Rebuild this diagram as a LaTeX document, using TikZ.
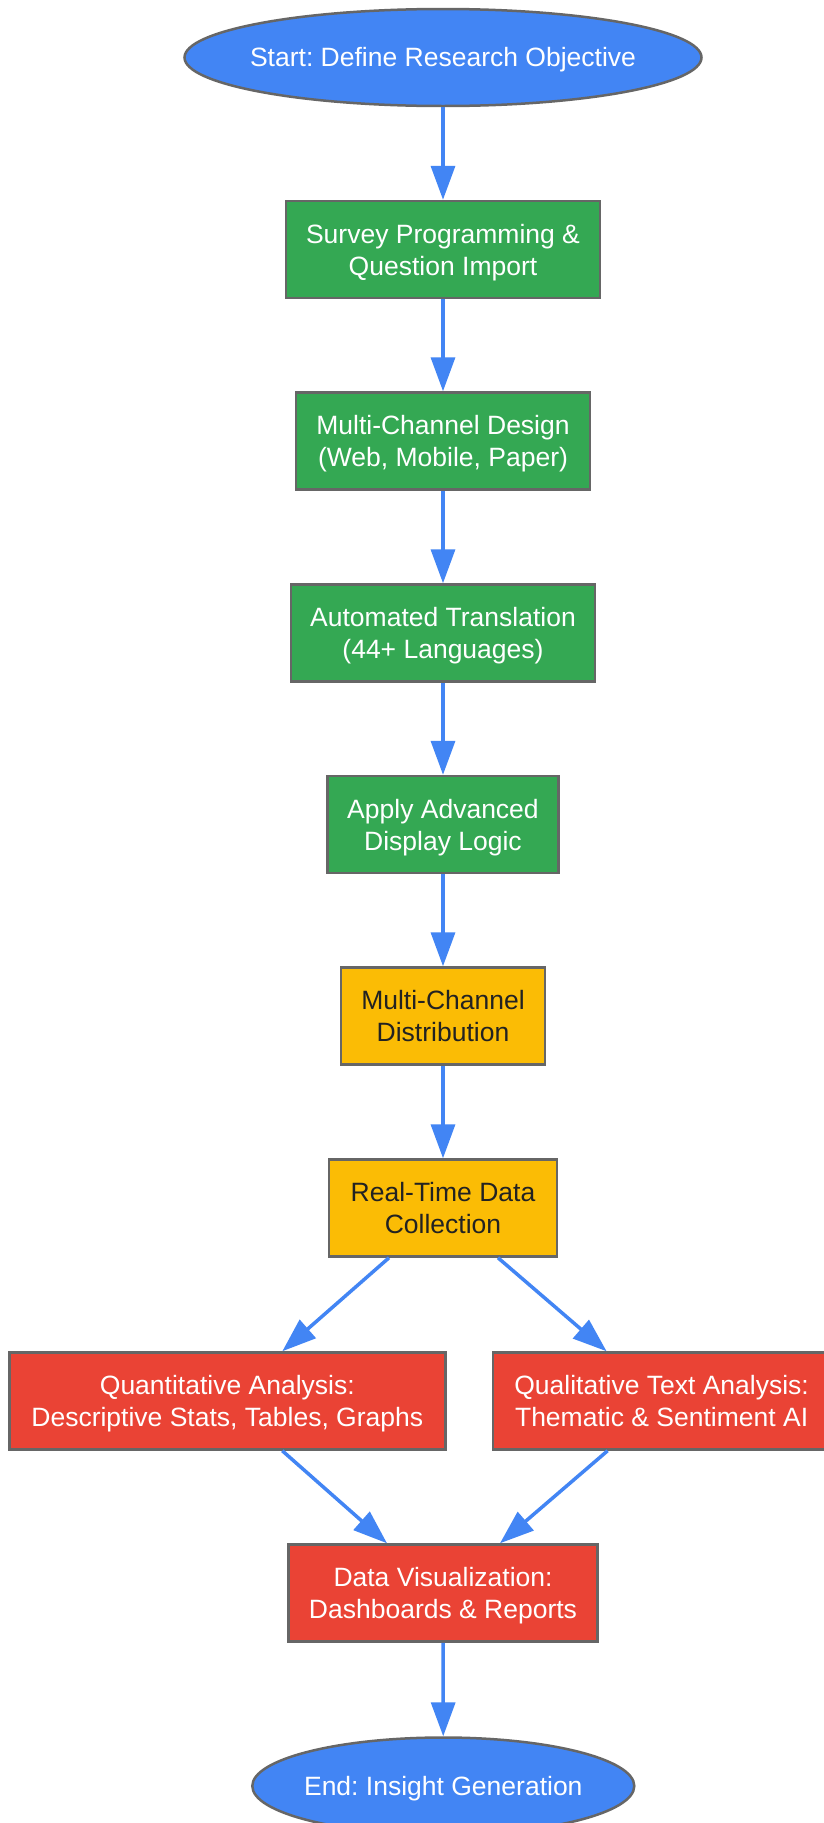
\documentclass[tikz,border=0pt]{standalone}
\usepackage{fontspec}
\setmainfont{Liberation Sans}
\usetikzlibrary{arrows.meta,shapes.geometric}
\definecolor{gblue}{HTML}{4285F4}
\definecolor{ggreen}{HTML}{34A853}
\definecolor{gyellow}{HTML}{FBBC05}
\definecolor{gred}{HTML}{EA4335}
\definecolor{edgegray}{HTML}{666666}
\definecolor{darktext}{HTML}{222222}
\frenchspacing
\begin{document}
\begin{tikzpicture}[x=1pt,y=-1pt,
  base/.style={draw=edgegray,line width=2.5pt,font=\fontsize{26.5}{32}\selectfont\frenchspacing,align=center,inner sep=0pt,minimum height=97pt},
  terminal/.style={base,ellipse,fill=gblue,text=white,inner xsep=-25pt,text height=24pt,text depth=6pt},
  twoline/.style={base,rectangle,text height=59pt,text depth=8pt},
  greenbox/.style={twoline,fill=ggreen,text=white},
  yellowbox/.style={twoline,fill=gyellow,text=darktext},
  redbox/.style={twoline,fill=gred,text=white},
  flow/.style={draw=gblue,line width=3.5pt,-{Triangle[length=34pt,width=24pt]}}]
\fill[white] (0,0) rectangle (824,1823);
\useasboundingbox (0,0) rectangle (824,1823);
\clip (0,0) rectangle (824,1823);
\node[terminal,minimum width=517pt] (start) at (443,57.5) {Start: Define Research Objective};
\node[greenbox,minimum width=314pt] (survey) at (443,249.5) {Survey Programming \&\\Question Import};
\node[greenbox,minimum width=294pt] (design) at (443,441) {Multi-Channel Design\\(Web, Mobile, Paper)};
\node[greenbox,minimum width=304pt] (transl) at (443,633) {Automated Translation\\(44+ Languages)};
\node[greenbox,minimum width=231pt] (logic) at (443,824.5) {Apply Advanced\\Display Logic};
\node[yellowbox,minimum width=204pt] (distr) at (443,1016) {Multi-Channel\\Distribution};
\node[yellowbox,minimum width=228pt] (collect) at (443,1208) {Real-Time Data\\Collection};
\node[redbox,minimum width=436pt] (quant) at (227.3,1401) {Quantitative Analysis:\\Descriptive Stats, Tables, Graphs};
\node[redbox,minimum width=337pt] (qual) at (661.6,1401) {Qualitative Text Analysis:\\Thematic \& Sentiment AI};
\node[redbox,minimum width=309pt] (viz) at (443,1593) {Data Visualization:\\Dashboards \& Reports};
\node[terminal,minimum width=382pt] (end) at (443.3,1786) {End: Insight Generation};
\draw[flow] (start) -- (survey);
\draw[flow] (survey) -- (design);
\draw[flow] (design) -- (transl);
\draw[flow] (transl) -- (logic);
\draw[flow] (logic) -- (distr);
\draw[flow] (distr) -- (collect);
\draw[flow] ([xshift=-54pt]collect.south) -- ([xshift=55pt]quant.north);
\draw[flow] ([xshift=55pt]collect.south) -- ([xshift=-55pt]qual.north);
\draw[flow] ([xshift=55pt]quant.south) -- ([xshift=-56pt]viz.north);
\draw[flow] ([xshift=-54pt]qual.south) -- ([xshift=57pt]viz.north);
\draw[flow] (viz) -- (end);
\end{tikzpicture}
\end{document}
